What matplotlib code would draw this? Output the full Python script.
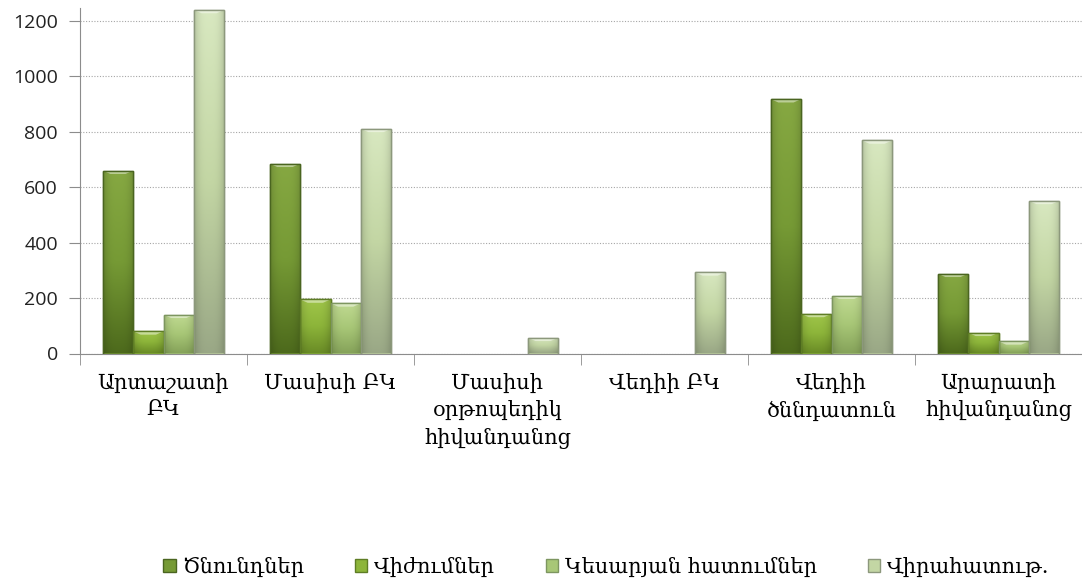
import matplotlib
matplotlib.use("Agg")
import matplotlib.pyplot as plt
import numpy as np
from matplotlib.colors import LinearSegmentedColormap
from matplotlib.patches import Patch

# data
categories = ["Արտաշատի\nԲԿ", "Մասիսի ԲԿ", "Մասիսի\nօրթոպեդիկ\nհիվանդանոց",
              "Վեդիի ԲԿ", "Վեդիի\nծննդատուն", "Արարատի\nհիվանդանոց"]
series_names = ["Ծնունդներ", "Վիժումներ", "Կեսարյան հատումներ", "Վիրահատութ."]
births = [660, 685, 0, 0, 918, 288]
abortions = [80, 195, 0, 0, 143, 75]
caesarean = [140, 181, 0, 0, 209, 44]
surgeries = [1240, 811, 57, 293, 769, 551]
values = [births, abortions, caesarean, surgeries]

# (top, middle, bottom) shades per series
shades = [
    ("#86a842", "#769a35", "#4d6a1c"),
    ("#a0c64a", "#8db53a", "#6a8c26"),
    ("#c0da92", "#a8c777", "#86a35a"),
    ("#d8e8c0", "#c3d6a4", "#9aa886"),
]
edges = ["#4a6520", "#5e7d25", "#7d9660", "#8c987c"]

fig = plt.figure(figsize=(10.82, 5.82), dpi=100)
W, H = 1082, 582
ax = fig.add_axes([80 / W, 1 - 353.5 / H, (W - 80) / W, (353.5 - 8) / H])

width = 1 / 5.5
x = np.arange(len(categories))
v = np.linspace(0, 1, 200).reshape(-1, 1)
u = np.linspace(-1, 1, 40).reshape(1, -1)
side = 1 - 0.16 * np.abs(u) ** 3   # darker towards the bar sides

for i, (vals, sh) in enumerate(zip(values, shades)):
    pos = x - 2 * width + i * width + width / 2
    bars = ax.bar(pos, vals, width, color=sh[1], edgecolor=edges[i],
                  linewidth=1.0, zorder=3)
    cmap = LinearSegmentedColormap.from_list("s%d" % i, [sh[2], sh[1], sh[0]])
    rgb = cmap(v[:, 0])[:, :3]
    img = rgb[:, None, :] * side[0][None, :, None]
    for b in bars:
        h = b.get_height()
        if h <= 0:
            b.set_linewidth(0)
            continue
        x0 = b.get_x()
        im = ax.imshow(img, aspect="auto", origin="lower",
                       extent=[x0, x0 + width, 0, h], zorder=3.5)
        im.set_clip_path(b)
        # light bevel on top
        bev = min(h, 12)
        ax.fill([x0, x0 + width, x0 + width * 0.75, x0 + width * 0.25],
                [h, h, h - bev, h - bev], color="white", alpha=0.45,
                lw=0, zorder=4)
        ax.bar(x0 + width / 2, h, width, fill=False, edgecolor=edges[i],
               linewidth=1.0, zorder=4.5)

ax.set_xlim(-0.5, -0.5 + (W - 80) / 168.3)
ax.set_ylim(0, 1247)
ax.set_yticks(np.arange(0, 1201, 200))
ax.yaxis.grid(True, linestyle=(0, (1, 1.5)), color="#a6a6a6", linewidth=0.8, zorder=0)
ax.set_axisbelow(True)

ax.set_xticks(x)
ax.set_xticklabels(categories, fontsize=15, family=["DejaVu Serif", "DejaVu Sans"],
                   linespacing=1.45, color="black")
ax.set_xticks(np.arange(-0.5, len(categories), 1.0), minor=True)
ax.tick_params(axis="x", which="major", length=0, pad=14)
ax.tick_params(axis="x", which="minor", length=8, color="#8c8c8c", direction="out")
ax.tick_params(axis="y", length=8, color="#8c8c8c", labelsize=14,
               labelcolor="#222222", pad=8)
for t in ax.get_yticklabels():
    t.set_family("Open Sans")

for s in ["top", "right"]:
    ax.spines[s].set_visible(False)
ax.spines["left"].set_color("#8c8c8c")
ax.spines["bottom"].set_color("#8c8c8c")

handles = [Patch(facecolor=sh[1], edgecolor=edges[i]) for i, sh in enumerate(shades)]
fig.legend(handles, series_names, loc="center", bbox_to_anchor=(606 / W, 1 - 567 / H),
           ncol=4, frameon=False, handlelength=0.6, handleheight=0.6,
           handletextpad=0.3, columnspacing=2.45, borderpad=0,
           prop={"family": ["DejaVu Serif", "DejaVu Sans"], "size": 15})

fig.savefig("out.png", dpi=100)
